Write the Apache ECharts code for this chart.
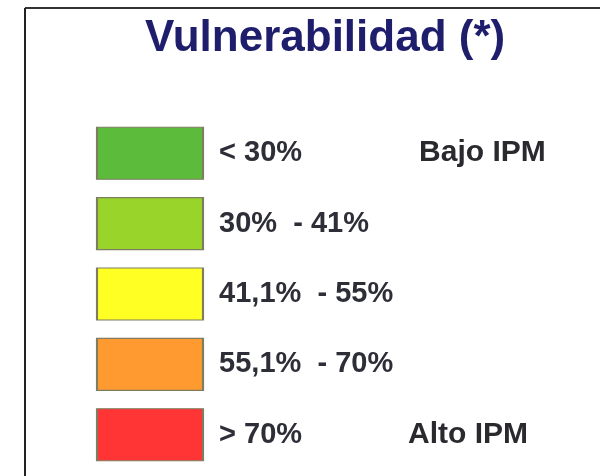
<!DOCTYPE html>
<html lang="es">
<head>
    <meta charset="UTF-8">
    <title>Vulnerabilidad</title>
    <script src="https://cdn.jsdelivr.net/npm/echarts@6/dist/echarts.min.js"></script>
    <style>
        html, body { margin: 0; padding: 0; background: #fff; }
    </style>
</head>
<body>
<div id="main" style="width: 600px;height:476px;"></div>
<script type="text/javascript">
    // clases de la leyenda, de arriba abajo
    var rangos = ['< 30%', '30%  - 41%', '41,1%  - 55%', '55,1%  - 70%', '> 70%'];
    var colores = ['#5cbb3a', '#99d42b', '#ffff24', '#ff9a30', '#ff3535'];
    var notas = ['Bajo IPM', '', '', '', 'Alto IPM'];
    var columna = ['clase'];

    var myChart = echarts.init(document.getElementById('main'));

    var datos = rangos.map(function (r, i) {
        return {
            value: [columna[0], r],
            itemStyle: { color: colores[i] }
        };
    });

    var option = {
        animation: false,
        title: {
            text: 'Vulnerabilidad (*)',
            left: 140,
            top: 12,
            textStyle: {
                fontFamily: 'Liberation Sans, Arial',
                fontSize: 44,
                fontWeight: 'bold',
                color: '#1e1e6c'
            }
        },
        graphic: [
            { type: 'line', shape: { x1: 25, y1: 8, x2: 600, y2: 8 }, style: { stroke: '#333', lineWidth: 2 } },
            { type: 'line', shape: { x1: 25, y1: 8, x2: 25, y2: 476 }, style: { stroke: '#222', lineWidth: 2 } }
        ],
        grid: {
            left: 100,
            width: 100,
            top: 118,
            bottom: 6
        },
        xAxis: {
            type: 'category',
            data: columna,
            show: false
        },
        yAxis: {
            type: 'category',
            data: rangos,
            inverse: true,
            show: false
        },
        series: [{
            type: 'scatter',
            symbol: 'rect',
            symbolSize: [106, 52],
            itemStyle: {
                opacity: 1,
                borderColor: '#7d7d62',
                borderWidth: 1.5
            },
            label: {
                show: true,
                position: 'right',
                distance: 15,
                formatter: function (p) {
                    var i = p.dataIndex;
                    var s = '{a' + (i === 4 ? '2' : '') + '|' + rangos[i] + '}';
                    if (notas[i]) s += '{b|' + notas[i] + '}';
                    return s;
                },
                rich: {
                    a: { width: 200, fontFamily: 'Liberation Sans, Arial', fontSize: 29, fontWeight: 'bold', color: '#2e2e38' },
                    a2: { width: 189, fontFamily: 'Liberation Sans, Arial', fontSize: 29, fontWeight: 'bold', color: '#2e2e38' },
                    b: { fontFamily: 'Liberation Sans, Arial', fontSize: 30, fontWeight: 'bold', color: '#2a2a2e' }
                }
            },
            data: datos
        }]
    };

    myChart.setOption(option);
</script>
</body>
</html>
